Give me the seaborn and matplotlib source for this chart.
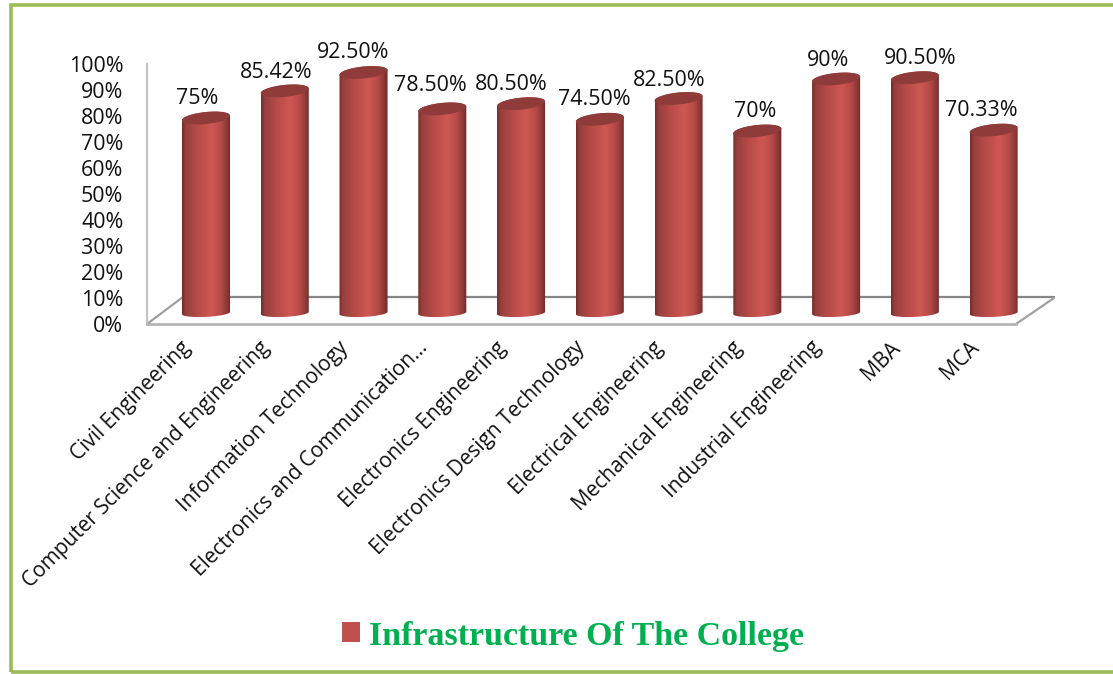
import numpy as np
import pandas as pd
import seaborn as sns
import matplotlib.pyplot as plt
from matplotlib.colors import LinearSegmentedColormap
from matplotlib.lines import Line2D
from matplotlib.patches import Patch, Polygon, Rectangle
from matplotlib.transforms import ScaledTranslation

departments = ['Civil Engineering', 'Computer Science and Engineering', 'Information Technology',
               'Electronics and Communication…', 'Electronics Engineering', 'Electronics Design Technology',
               'Electrical Engineering', 'Mechanical Engineering', 'Industrial Engineering', 'MBA', 'MCA']
scores = [75, 85.42, 92.5, 78.5, 80.5, 74.5, 82.5, 70, 90, 90.5, 70.33]
score_labels = ['75%', '85.42%', '92.50%', '78.50%', '80.50%', '74.50%', '82.50%', '70%', '90%', '90.50%', '70.33%']
y_ticks = [0, 10, 20, 30, 40, 50, 60, 70, 80, 90, 100]
series_name = 'Infrastructure Of The College'

# label nudges in pixels, the labels are not centred on the bars in the original
label_dx = [-9, -9, -10, -12, -10, -5, -9, -2, -8, 5, -12]
label_dy = [19, 18, 20, 23, 19, 20, 18, 19, 18, 19, 20]

W, H = 1113, 674
sns.set_theme(style='white')
plt.rcParams['font.family'] = ['Open Sans', 'DejaVu Sans']

fig = plt.figure(figsize=(W / 100, H / 100), dpi=100)


def box(x0, y_top, x1, y_bottom):
    return [x0 / W, 1 - y_bottom / H, (x1 - x0) / W, (y_bottom - y_top) / H]


def px(x, y):
    return x / W, 1 - y / H


# green frame, open at the right edge
fig.add_artist(Rectangle(px(10.5, 672), 1120 / W, 667 / H, transform=fig.transFigure,
                         fill=False, edgecolor='#9BBB59', linewidth=2.6))

# wall and floor
wall = fig.add_axes(box(147, 64, 1016, 324))
wall.patch.set_alpha(0)
wall.set_ylim(0, 100)
wall.set_xticks([])
wall.set_yticks(y_ticks)
wall.set_yticklabels([f'{t}%' for t in y_ticks], fontsize=15.4, color='#111111')
wall.tick_params(axis='y', length=0, pad=17)
for side in ['top', 'right']:
    wall.spines[side].set_visible(False)
wall.spines['left'].set_color('#c4c4c4')
wall.spines['left'].set_linewidth(1.6)
wall.spines['bottom'].set_color('#b5b5b5')
wall.spines['bottom'].set_linewidth(2)
for (x0, y0), (x1, y1), c in [((147, 324), (183, 297), '#a0a0a0'),
                              ((183, 297), (1054, 297), '#868686'),
                              ((1016, 324), (1054, 298), '#a0a0a0')]:
    a, b = px(x0, y0), px(x1, y1)
    fig.add_artist(Line2D([a[0], b[0]], [a[1], b[1]], transform=fig.transFigure, color=c,
                          linewidth=1.6, zorder=-1))

# bars
df = pd.DataFrame({'department': departments, 'score': scores})
ax = fig.add_axes(box(167, 53, 1033, 321))
ax.patch.set_alpha(0)
sns.barplot(data=df, x='department', y='score', color='#C0504D', width=0.61, saturation=1, ax=ax)
ax.set_yticks([])
ax.set_xlabel('')
ax.set_ylabel('')
sns.despine(ax=ax, left=True, bottom=True)

shade = LinearSegmentedColormap.from_list('cyl', [(0, '#782d2b'), (0.07, '#96403e'), (0.3, '#b54a47'),
                                                  (0.6, '#cf5753'), (0.8, '#b54b48'), (0.93, '#8c3836'),
                                                  (1, '#6e2a28')])
ramp = np.linspace(0, 1, 64).reshape(1, -1)
t = np.linspace(0, 2 * np.pi, 80)
for bar, value in zip(ax.patches, scores):
    x0, w = bar.get_x(), bar.get_width()
    cx = x0 + w / 2
    ex = cx + w / 2 * np.cos(t)
    # the caps lean a little, right side higher
    bottom_y = 1.5 * np.sin(t) + 0.45 * np.cos(t)
    top_y = value + 2.3 * np.sin(t) + 0.9 * np.cos(t)
    half = t[:40]
    body = np.vstack([np.column_stack([cx + w / 2 * np.cos(t[40:]), bottom_y[40:]]),
                      np.column_stack([cx + w / 2 * np.cos(half), value + 2.3 * np.sin(half) + 0.9 * np.cos(half)])])
    bar.set_visible(False)
    clip = Polygon(body, closed=True, transform=ax.transData, facecolor='none', edgecolor='none')
    ax.add_patch(clip)
    im = ax.imshow(ramp, extent=[x0, x0 + w, -3, value + 4], cmap=shade, aspect='auto', zorder=3)
    im.set_clip_path(clip)
    ax.add_patch(Polygon(np.column_stack([ex, top_y]), closed=True, facecolor='#8e3b3a', edgecolor='none',
                         zorder=4, clip_on=False))

ax.set_xlim(-0.495, 10.5)
ax.set_ylim(-3.08, 100)

for i, (value, text) in enumerate(zip(scores, score_labels)):
    ax.annotate(text, (i, value), xytext=(label_dx[i], label_dy[i]), textcoords='offset pixels',
                ha='center', va='center', fontsize=15.4, color='#111111', annotation_clip=False)

# category labels
ax.set_xticks(range(len(departments)))
ax.set_xticklabels(departments, rotation=45, ha='right', va='center', rotation_mode='anchor',
                   fontsize=15, color='#111111')
ax.tick_params(axis='x', length=0, pad=17)
nudge = ScaledTranslation(-18 / 100, 0, fig.dpi_scale_trans)
for label in ax.get_xticklabels():
    label.set_transform(label.get_transform() + nudge)

# legend
fig.legend(handles=[Patch(facecolor='#C0504D', edgecolor='none', label=series_name)],
           loc='center', bbox_to_anchor=px(573, 636), frameon=False, handlelength=0.53, handleheight=0.53,
           handletextpad=0.24, labelcolor='#00B050',
           prop={'family': 'Liberation Serif', 'weight': 'bold', 'size': 24.5})

fig.savefig('out.png', dpi=100)
